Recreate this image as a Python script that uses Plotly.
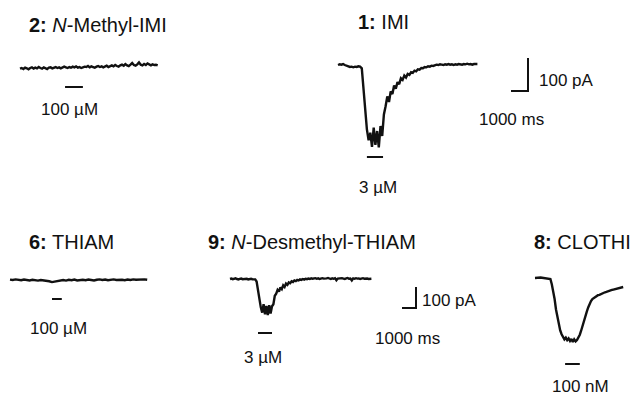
import plotly.graph_objects as go

W, H = 636, 398

# ---- recorded currents (pA), sampled at fixed intervals (ms) ----
dt_methyl_imi = 100
i_methyl_imi = [-2, 0, -3, 1, -1, -4, 0, 2, -2, 1, -1, 3, 0, -2, 2, 0, -3, 1, 2, -1,
                1, 3, 0, 2, -1, 1, 4, 2, 0, 3, 1, 4, 2, 5, 1, 3, 0, 2, 4, 3,
                6, 2, 5, 3, 1, 4, 6, 3, 5, 2, 4, 7, 3, 6, 8, 5, 9, 6, 4, 8,
                10, 7, 12, 8, 6, 10, 15, 9, 7, 11, 17, 10, 8, 12, 9, 14, 10, 8, 11, 9,
                10, 8]

dt_imi = 100
i_imi = [0, 2, 1, 3, 0, -2, -4, -6, -5, -7, -5, -6, -4, -5,
         -10, -70, -150, -195, -228, -205, -248, -190, -242, -200, -250, -185, -215,
         -150, -125, -95, -112, -80, -88, -62, -72, -52, -58, -40, -45, -32, -38,
         -27, -30, -22, -24, -17, -19, -13, -14, -9, -10, -6, -7, -4, -5, -2, -3,
         -1, 1, 0, 2, 1, 0, 2, 1, 3, 1, 2, 0, 2, 1, 3, 2, 1, 3, 2, 4, 2, 3, 1, 3, 2, 3]

dt_thiam = 200
i_thiam = [2, 0, 3, 1, -1, 2, 0, -2, 1, -1, -3, 0, -2, -1, -6, -10, -8, -4, -2, 0,
           -3, 1, -1, 2, -2, 0, 1, -1, 2, 0, -2, 1, 3, 0, 2, -1, 1, 3, 0, 2,
           1, -1, 2, 0, 3, 1, 2, 0, 3, 1]

dt_desmethyl = 100
i_desmethyl = [0, 2, -1, 1, 3, 0, -2, 1, 2, -1, 0, 2, 1, -2, 0, 1, -1, -3, -2,
               -12, -60, -105, -135, -160, -120, -168, -128, -172, -125, -165, -130,
               -120, -80, -70, -52, -60, -40, -48, -30, -38, -22, -28, -16, -20, -11,
               -14, -7, -10, -4, -7, -2, -4, 0, -3, 1, -1, 2,
               0, 3, 1, 2, 4, 1, 3, 0, 2, 4, 2, 1, 3, 5, 2, 0, 3, 1, 4, -6,
               2, 3, 1, 4, 2, 0, 3, 5, 1, 2, -7, 3, 1, 4, 2, 3, 0, 2, 4, 1,
               3, 2, 0, 2, 1]

dt_clothi = 100
i_clothi = [0, 1, -1, 0, 2, 1, 0, -1, 1, 0, -2, -5,
            -30, -60, -100, -150, -190, -225, -250, -268, -280, -292,
            -284, -296, -288, -300, -290, -305, -292, -302, -295, -285,
            -270, -250, -225, -200, -180, -160, -140, -122, -110, -100,
            -95, -90, -86, -82, -80, -76, -74, -71, -68, -66,
            -63, -61, -60, -57, -55, -53, -51, -49, -47, -46, -44, -43]

# agonist application windows (ms)
app_methyl_imi = [2650, 3700]
app_imi = [1700, 2650]
app_thiam = [3000, 3700]
app_desmethyl = [2000, 3000]
app_clothi = [2150, 3200]

# calibration bars
scale_ms = 1000
scale_pa = 100

# ---- layout of the panels (pixels) ----
row_scale = {1: (0.017, 0.33), 2: (0.014, 0.21)}   # px per ms, px per pA

panels = [
    # name, dt, current, window, row, trace start (x, y), bar y
    ("methyl_imi", dt_methyl_imi, i_methyl_imi, app_methyl_imi, 1, (20, 68), 87),
    ("imi", dt_imi, i_imi, app_imi, 1, (338, 65), 157),
    ("thiam", dt_thiam, i_thiam, app_thiam, 2, (10, 280), 299),
    ("desmethyl", dt_desmethyl, i_desmethyl, app_desmethyl, 2, (230, 279), 333),
    ("clothi", dt_clothi, i_clothi, app_clothi, 2, (535, 278), 364),
]

INK = "#111111"
FONT = "Liberation Sans, Arial, sans-serif"
LW = 2.4

fig = go.Figure()
layout = dict(width=W, height=H, margin=dict(l=0, r=0, t=0, b=0),
              paper_bgcolor="white", plot_bgcolor="rgba(0,0,0,0)", showlegend=False)
shapes = []
axis_of = {}

for k, (name, dt, cur, win, row, (x0, y0), bar_y) in enumerate(panels, start=1):
    sx, sy = row_scale[row]
    xa = "xaxis" if k == 1 else f"xaxis{k}"
    ya = "yaxis" if k == 1 else f"yaxis{k}"
    xr = "x" if k == 1 else f"x{k}"
    yr = "y" if k == 1 else f"y{k}"
    axis_of[name] = (xr, yr, x0, y0, sx, sy)
    layout[xa] = dict(domain=[0, 1], range=[-x0 / sx, (W - x0) / sx], visible=False,
                      anchor=yr, fixedrange=True)
    layout[ya] = dict(domain=[0, 1], range=[(y0 - H) / sy, y0 / sy], visible=False,
                      anchor=xr, fixedrange=True)
    t = [j * dt for j in range(len(cur))]
    fig.add_trace(go.Scatter(x=t, y=cur, mode="lines", xaxis=xr, yaxis=yr,
                             line=dict(color=INK, width=LW), hoverinfo="skip"))
    # application bar under the trace
    shapes.append(dict(type="line", xref=xr, yref="paper",
                       x0=win[0], x1=win[1], y0=1 - bar_y / H, y1=1 - bar_y / H,
                       line=dict(color=INK, width=2)))


def add_calibration(name, corner_px):
    xr, yr, x0, y0, sx, sy = axis_of[name]
    cx = (corner_px[0] - x0) / sx
    cy = (y0 - corner_px[1]) / sy
    fig.add_trace(go.Scatter(x=[cx - scale_ms, cx, cx], y=[cy, cy, cy + scale_pa],
                             mode="lines", xaxis=xr, yaxis=yr,
                             line=dict(color=INK, width=2), hoverinfo="skip"))


add_calibration("imi", (528, 91))
add_calibration("desmethyl", (416, 308))

annotations = []


def text(s, x, y, anchor="center", size=17):
    annotations.append(dict(text=s, x=x / W, y=1 - y / H, xref="paper", yref="paper",
                            xanchor=anchor, yanchor="middle", showarrow=False,
                            font=dict(family=FONT, size=size, color=INK)))


# panel titles
text("<b>2:</b> <i>N</i>-Methyl-IMI", 27, 25, "left", 20)
text("<b>1:</b> IMI", 356, 22, "left", 20)
text("<b>6:</b> THIAM", 27, 242, "left", 20)
text("<b>9:</b> <i>N</i>-Desmethyl-THIAM", 206, 242, "left", 20)
text("<b>8:</b> CLOTHI", 532, 242, "left", 20)

# concentrations
text("100 µM", 69, 110)
text("3 µM", 378, 187)
text("100 µM", 59, 328)
text("3 µM", 263, 357)
text("100 nM", 580, 386)

# calibration labels
text("100 pA", 537, 81, "left")
text("1000 ms", 511, 119)
text("100 pA", 420, 300, "left")
text("1000 ms", 407, 338)

layout["shapes"] = shapes
layout["annotations"] = annotations
fig.update_layout(**layout)
fig.write_html("out.html", config={"displayModeBar": False})
